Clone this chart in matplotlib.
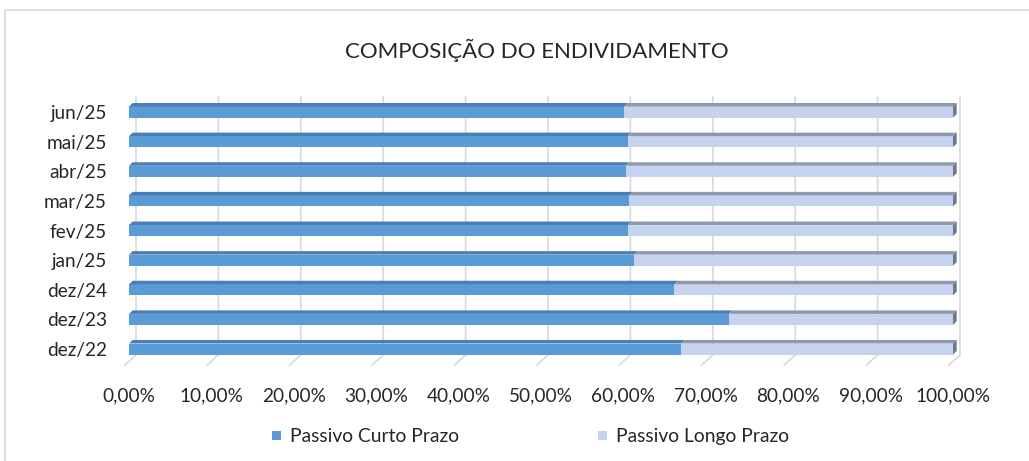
import matplotlib.pyplot as plt
from matplotlib.patches import Polygon, Rectangle

plt.rcParams['font.family'] = ['Lato', 'DejaVu Sans']

categories = ["dez/22", "dez/23", "dez/24", "jan/25", "fev/25",
              "mar/25", "abr/25", "mai/25", "jun/25"]
curto = [67.0, 72.8, 66.2, 61.3, 60.5, 60.7, 60.3, 60.5, 60.1]
longo = [100 - v for v in curto]
xticks = list(range(0, 101, 10))

W, H = 1029, 461
fig = plt.figure(figsize=(W / 100, H / 100), dpi=100)

# outer chart frame
fig.patches.append(Rectangle((5 / W, -0.1), 1.1, 1 - 10 / H + 0.1,
                             transform=fig.transFigure, fill=False,
                             edgecolor="#D9D9D9", lw=1.2))

# axes placed in pixel terms
x0, x1 = 129, 953
ytop, ybot = 92, 367
ax = fig.add_axes([x0 / W, 1 - ybot / H, (x1 - x0) / W, (ybot - ytop) / H])
pxu = (349 - 112) / 8.0
ax.set_xlim(0, 100)
ax.set_ylim(-(ybot - 349) / pxu, 8 + (112 - ytop) / pxu)
for s in ax.spines.values():
    s.set_visible(False)

# 3D-like gridlines (back wall + floor)
dx = 7 / 8.24
y_wall = -(355 - 349) / pxu
y_floor = -(365 - 349) / pxu
y_top = 8 + (112 - 97) / pxu
for t in xticks:
    ax.plot([t + dx, t + dx, t - 0.5], [y_top, y_wall, y_floor],
            color="#D9D9D9", lw=1.2, clip_on=False, zorder=0)

bh = 11 / pxu
th = 3.5 / pxu
d = 3.7 / 8.24

def bar3d(left, width, y, front, top):
    ax.add_patch(Rectangle((left, y - bh / 2), width, bh,
                           facecolor=front, edgecolor="none", zorder=2,
                           clip_on=False))
    yt = y + bh / 2
    ax.add_patch(Polygon([(left, yt), (left + width, yt),
                          (left + width + d, yt + th), (left + d, yt + th)],
                         facecolor=top, edgecolor="none", zorder=2,
                         clip_on=False))

for i in range(len(categories)):
    bar3d(0, curto[i], i, "#5B9BD5", "#4A7FB5")
    bar3d(curto[i], longo[i], i, "#C5D3EE", "#8D99AD")
    # right end cap
    yb = i - bh / 2
    ax.add_patch(Polygon([(100, yb), (100 + d, yb + th),
                          (100 + d, yb + bh + th), (100, yb + bh)],
                         facecolor="#6F7A8C", edgecolor="none", zorder=2,
                         clip_on=False))

ax.set_yticks(range(len(categories)))
ax.set_yticklabels(categories, fontsize=13.7, color="#262626")
ax.set_xticks(xticks)
ax.set_xticklabels([f"{t:.2f}%".replace(".", ",") for t in xticks],
                   fontsize=13.7, color="#262626")
ax.tick_params(axis="both", length=0)
ax.tick_params(axis="x", pad=15)
ax.tick_params(axis="y", pad=16)

fig.text(537 / W, 1 - 50 / H, "COMPOSIÇÃO DO ENDIVIDAMENTO",
         ha="center", va="center", fontsize=16, color="#262626")

# legend
for lx, label, col in [(276, "Passivo Curto Prazo", "#5B9BD5"),
                       (602, "Passivo Longo Prazo", "#C5D3EE")]:
    fig.patches.append(Rectangle(((lx - 4) / W, 1 - 440 / H), 9 / W, 9 / H,
                                 transform=fig.transFigure,
                                 facecolor=col, edgecolor="none"))
    fig.text((lx + 14) / W, 1 - 436 / H, label, ha="left", va="center",
             fontsize=13.9, color="#262626")

fig.savefig("out.png", dpi=100)
